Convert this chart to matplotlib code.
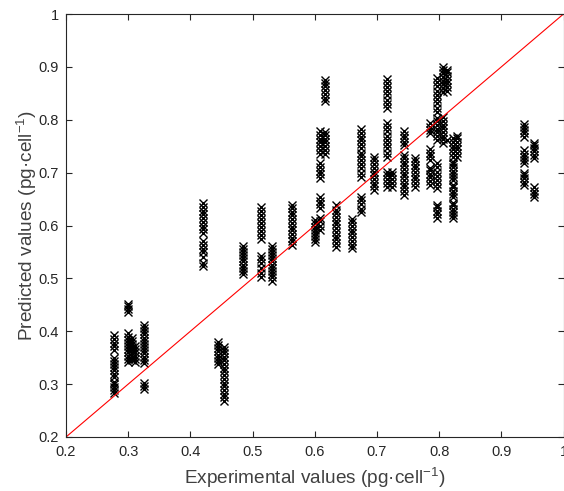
import numpy as np
import matplotlib.pyplot as plt

plt.rcParams["font.family"] = ["Liberation Sans", "DejaVu Sans"]
plt.rcParams["mathtext.fontset"] = "custom"
plt.rcParams["mathtext.rm"] = "Liberation Sans"
plt.rcParams["mathtext.it"] = "Liberation Sans"

# experimental value of each column of points
exp_values = [
    0.277, 0.300, 0.306, 0.311, 0.325, 0.420, 0.444, 0.454, 0.484, 0.514,
    0.532, 0.563, 0.600, 0.608, 0.617, 0.634, 0.660, 0.674, 0.695, 0.716,
    0.724, 0.743, 0.762, 0.785, 0.796, 0.806, 0.812, 0.823, 0.829, 0.936,
    0.952,
]

pred_values = [
    [0.365, 0.372, 0.378, 0.385, 0.392, 0.314, 0.320, 0.326, 0.332, 0.338,
     0.344, 0.350, 0.283, 0.289, 0.295, 0.300, 0.304],
    [0.437, 0.442, 0.447, 0.452, 0.342, 0.348, 0.354, 0.360, 0.366, 0.372,
     0.378, 0.384, 0.390, 0.396],
    [0.345, 0.352, 0.358, 0.364, 0.370, 0.376, 0.382, 0.388],
    [0.342, 0.348, 0.354, 0.360, 0.366, 0.372],
    [0.340, 0.346, 0.352, 0.358, 0.364, 0.370, 0.376, 0.382, 0.388, 0.394,
     0.400, 0.406, 0.412, 0.290, 0.296, 0.302],
    [0.523, 0.530, 0.540, 0.550, 0.556, 0.563, 0.570, 0.586, 0.593, 0.600,
     0.607, 0.614, 0.621, 0.628, 0.635, 0.642],
    [0.338, 0.344, 0.350, 0.356, 0.362, 0.368, 0.374, 0.380],
    [0.268, 0.275, 0.282, 0.289, 0.296, 0.303, 0.310, 0.317, 0.324, 0.331,
     0.338, 0.345, 0.352, 0.358, 0.364, 0.370],
    [0.508, 0.514, 0.520, 0.526, 0.532, 0.538, 0.544, 0.550, 0.556, 0.562],
    [0.503, 0.510, 0.520, 0.530, 0.536, 0.542, 0.575, 0.582, 0.590, 0.598,
     0.605, 0.612, 0.620, 0.628, 0.635],
    [0.495, 0.502, 0.508, 0.514, 0.520, 0.526, 0.532, 0.538, 0.544, 0.550,
     0.556, 0.562],
    [0.563, 0.570, 0.577, 0.584, 0.591, 0.598, 0.605, 0.612, 0.619, 0.626,
     0.633, 0.638],
    [0.568, 0.574, 0.580, 0.586, 0.592, 0.598, 0.604, 0.610],
    [0.592, 0.600, 0.608, 0.614, 0.633, 0.640, 0.647, 0.654, 0.690, 0.697,
     0.704, 0.711, 0.718, 0.735, 0.742, 0.750, 0.757, 0.764, 0.771, 0.778],
    [0.735, 0.742, 0.750, 0.757, 0.764, 0.771, 0.777, 0.835, 0.842, 0.849,
     0.856, 0.863, 0.870, 0.875],
    [0.560, 0.567, 0.574, 0.581, 0.588, 0.595, 0.602, 0.609, 0.616, 0.623,
     0.630, 0.638],
    [0.557, 0.564, 0.571, 0.578, 0.585, 0.592, 0.599, 0.606, 0.612],
    [0.625, 0.632, 0.640, 0.648, 0.654, 0.692, 0.700, 0.708, 0.716, 0.724,
     0.731, 0.737, 0.747, 0.754, 0.761, 0.768, 0.775, 0.782],
    [0.667, 0.674, 0.681, 0.688, 0.695, 0.702, 0.709, 0.716, 0.723, 0.730],
    [0.822, 0.830, 0.838, 0.846, 0.854, 0.862, 0.870, 0.878, 0.730, 0.738,
     0.746, 0.754, 0.762, 0.770, 0.778, 0.786, 0.793, 0.672, 0.680, 0.688,
     0.695, 0.701],
    [0.672, 0.680, 0.688, 0.695, 0.701],
    [0.752, 0.758, 0.765, 0.772, 0.779, 0.658, 0.665, 0.672, 0.679, 0.686,
     0.693, 0.700, 0.707, 0.714, 0.721, 0.728, 0.733],
    [0.673, 0.680, 0.687, 0.694, 0.701, 0.708, 0.715, 0.722, 0.728],
    [0.775, 0.781, 0.787, 0.794, 0.724, 0.731, 0.738, 0.745, 0.677, 0.684,
     0.691, 0.698, 0.705, 0.709],
    [0.815, 0.823, 0.831, 0.839, 0.847, 0.855, 0.863, 0.871, 0.879, 0.762,
     0.769, 0.776, 0.783, 0.790, 0.797, 0.803, 0.671, 0.678, 0.686, 0.694,
     0.702, 0.710, 0.718, 0.614, 0.621, 0.628, 0.635, 0.639],
    [0.853, 0.860, 0.867, 0.874, 0.881, 0.888, 0.895, 0.900, 0.756, 0.763,
     0.770, 0.777, 0.784, 0.791, 0.798, 0.805],
    [0.855, 0.862, 0.869, 0.876, 0.883, 0.890, 0.895, 0.762],
    [0.730, 0.737, 0.744, 0.751, 0.758, 0.765, 0.686, 0.692, 0.698, 0.704,
     0.710, 0.716, 0.720, 0.654, 0.660, 0.666, 0.672, 0.677, 0.614, 0.620,
     0.626, 0.632, 0.638, 0.643],
    [0.730, 0.737, 0.744, 0.751, 0.758, 0.765, 0.770],
    [0.768, 0.774, 0.780, 0.786, 0.792, 0.718, 0.724, 0.730, 0.736, 0.743,
     0.677, 0.683, 0.689, 0.695, 0.700],
    [0.728, 0.734, 0.740, 0.746, 0.752, 0.756, 0.654, 0.660, 0.666, 0.672],
]

x_ticks = [0.2, 0.3, 0.4, 0.5, 0.6, 0.7, 0.8, 0.9, 1.0]
tick_labels = ["0.2", "0.3", "0.4", "0.5", "0.6", "0.7", "0.8", "0.9", "1"]

experimental = np.concatenate(
    [np.full(len(ys), x) for x, ys in zip(exp_values, pred_values)])
predicted = np.concatenate(pred_values)

text_color = "#262626"
label_color = "#404040"

fig = plt.figure(figsize=(5.64, 4.91), dpi=100)
ax = fig.add_axes([66 / 564, 1 - 437 / 491, 497.5 / 564, 423 / 491])

ax.plot(experimental, predicted, "x", color="black", markersize=5.8,
        markeredgewidth=1.0)
ax.plot([0.2, 1.0], [0.2, 1.0], color="red", linewidth=0.8)

ax.set_xlim(0.2, 1.0)
ax.set_ylim(0.2, 1.0)
ax.set_xticks(x_ticks)
ax.set_xticklabels(tick_labels)
ax.set_yticks(x_ticks)
ax.set_yticklabels(tick_labels)

ax.tick_params(direction="in", top=True, right=True, length=4, width=0.8,
               labelsize=10.5, colors=text_color)
ax.tick_params(axis="x", pad=6)
ax.tick_params(axis="y", pad=5)
for spine in ax.spines.values():
    spine.set_linewidth(0.8)
    spine.set_color(text_color)

ax.set_xlabel("Experimental values (pg\u00b7cell$^{-1}$)", fontsize=13.7,
              color=label_color, labelpad=4.5)
ax.set_ylabel("Predicted values (pg\u00b7cell$^{-1}$)", fontsize=13.7,
              color=label_color, labelpad=0)

plt.savefig("out.png", dpi=100)
